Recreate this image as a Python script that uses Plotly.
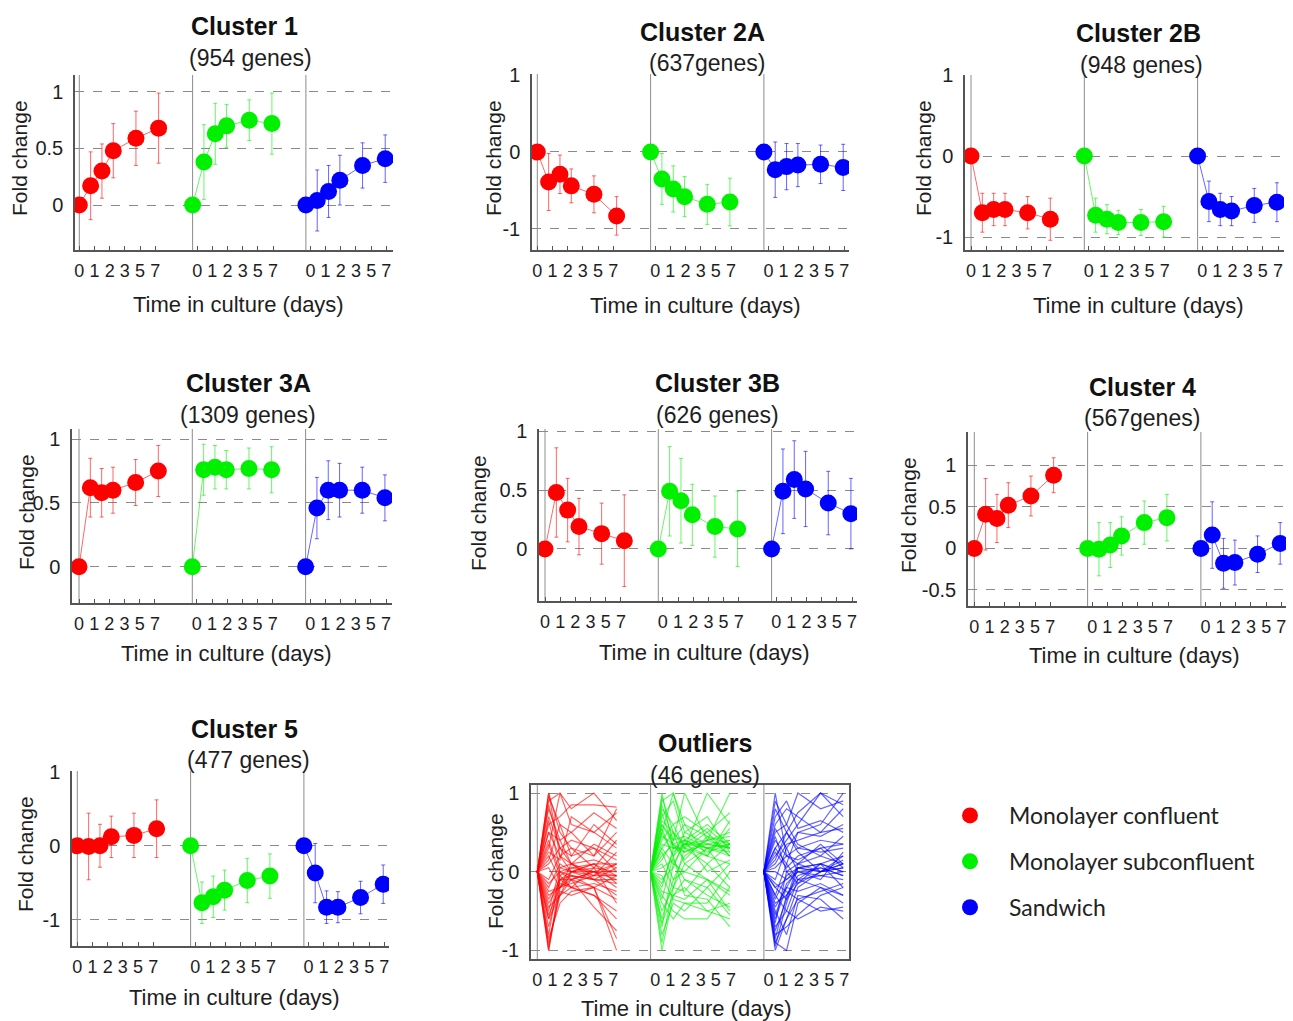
import plotly.graph_objects as go

W, H = 1293, 1021

# ---------------- data ----------------
DAYS = [0, 1, 2, 3, 5, 7]
TICK_LABELS = ["0", "1", "2", "3", "5", "7"]
CONDITIONS = ["Monolayer confluent", "Monolayer subconfluent", "Sandwich"]

# mean fold change per condition [confluent, subconfluent, sandwich]
C1_MEAN = [[0, 0.17, 0.30, 0.48, 0.59, 0.68],
           [0, 0.38, 0.63, 0.70, 0.75, 0.72],
           [0, 0.04, 0.12, 0.22, 0.35, 0.41]]
C1_ERR = [[0, 0.30, 0.24, 0.24, 0.24, 0.31],
          [0, 0.33, 0.27, 0.19, 0.18, 0.27],
          [0, 0.27, 0.23, 0.22, 0.20, 0.21]]

C2A_MEAN = [[0, -0.39, -0.29, -0.44, -0.55, -0.83],
            [0, -0.35, -0.48, -0.58, -0.68, -0.65],
            [0, -0.23, -0.19, -0.17, -0.16, -0.20]]
C2A_ERR = [[0, 0.37, 0.25, 0.22, 0.24, 0.25],
           [0, 0.33, 0.30, 0.26, 0.26, 0.31],
           [0, 0.36, 0.30, 0.28, 0.25, 0.30]]

C2B_MEAN = [[0, -0.70, -0.66, -0.66, -0.70, -0.78],
            [0, -0.73, -0.78, -0.82, -0.82, -0.81],
            [0, -0.56, -0.66, -0.68, -0.61, -0.57]]
C2B_ERR = [[0, 0.24, 0.20, 0.20, 0.20, 0.26],
           [0, 0.21, 0.18, 0.15, 0.16, 0.19],
           [0, 0.25, 0.20, 0.18, 0.21, 0.24]]

C3A_MEAN = [[0, 0.62, 0.58, 0.60, 0.66, 0.75],
            [0, 0.76, 0.78, 0.76, 0.77, 0.76],
            [0, 0.46, 0.60, 0.60, 0.60, 0.54]]
C3A_ERR = [[0, 0.23, 0.19, 0.18, 0.18, 0.20],
           [0, 0.20, 0.17, 0.15, 0.16, 0.18],
           [0, 0.24, 0.23, 0.21, 0.18, 0.18]]

C3B_MEAN = [[0, 0.48, 0.33, 0.19, 0.13, 0.07],
            [0, 0.49, 0.41, 0.29, 0.19, 0.17],
            [0, 0.49, 0.59, 0.51, 0.39, 0.30]]
C3B_ERR = [[0, 0.38, 0.27, 0.24, 0.26, 0.39],
           [0, 0.38, 0.36, 0.26, 0.26, 0.32],
           [0, 0.36, 0.33, 0.32, 0.27, 0.30]]

C4_MEAN = [[0, 0.41, 0.36, 0.52, 0.63, 0.88],
           [0, -0.01, 0.04, 0.15, 0.31, 0.37],
           [0, 0.16, -0.18, -0.17, -0.07, 0.06]]
C4_ERR = [[0, 0.43, 0.29, 0.27, 0.24, 0.21],
          [0, 0.32, 0.27, 0.23, 0.26, 0.28],
          [0, 0.40, 0.30, 0.27, 0.22, 0.25]]

C5_MEAN = [[0, -0.01, 0.00, 0.12, 0.14, 0.23],
           [0, -0.77, -0.69, -0.60, -0.47, -0.41],
           [0, -0.37, -0.83, -0.83, -0.70, -0.52]]
C5_ERR = [[0, 0.45, 0.29, 0.28, 0.30, 0.39],
          [0, 0.28, 0.28, 0.27, 0.30, 0.30],
          [0, 0.40, 0.22, 0.21, 0.22, 0.26]]

# outlier gene profiles (values at days 0,1,2,3,5,7)
OUT_RED = [
    [0, 1.0, 0.2, 0.1, 0.0, -0.1], [0, 1.0, 0.5, 0.3, 0.2, 0.8],
    [0, -1.0, -0.2, 0.0, 0.0, 0.1], [0, -1.0, -0.1, -0.05, -0.1, -0.3],
    [0, 0.9, 1.0, 0.8, 1.0, 0.65], [0, 0.3, 1.0, 0.6, 0.5, 0.3],
    [0, -0.6, -0.3, -0.1, 0.0, 0.0], [0, -0.8, 0.0, -0.1, -0.2, -1.0],
    [0, 0.5, 0.2, 0.0, -0.1, 0.05], [0, -0.3, -0.2, -0.15, -0.05, -0.05],
    [0, 0.6, 0.7, 0.85, 0.85, 0.82], [0, -0.5, 0.05, 0.1, 0.35, 0.2],
    [0, 0.2, -0.1, -0.1, 0.0, -0.2], [0, -0.9, -0.3, -0.2, -0.15, -0.25],
    [0, 0.8, 0.4, 0.5, 0.2, 0.5], [0, -0.2, 0.1, 0.0, 0.05, 0.0],
    [0, -0.4, -0.15, -0.2, -0.3, -0.6], [0, 0.4, 0.0, 0.05, 0.1, -0.05],
    [0, -0.7, -0.1, 0.0, -0.05, 0.1], [0, 0.7, 0.3, 0.2, 0.6, 0.35],
    [0, -0.25, -0.2, -0.1, -0.45, -0.75], [0, 0.1, 0.3, 0.4, 0.3, 0.15],
    [0, -0.95, -0.25, -0.3, -0.2, -0.35], [0, 0.95, 0.6, 0.2, 0.3, 0.0],
    [0, -0.15, 0.0, -0.05, -0.1, -0.1], [0, 0.25, 0.15, 0.7, 0.5, 0.75],
    [0, -0.6, -0.05, 0.05, 0.0, -0.05], [0, 0.05, -0.2, 0.1, -0.05, 0.25],
    [0, -0.35, -0.1, -0.2, 0.05, -0.4], [0, 0.5, 0.4, 0.1, 0.15, 0.05],
    [0, 0.85, 0.3, 0.1, -0.1, -0.15], [0, -0.85, -0.4, -0.25, -0.2, -0.05],
    [0, 0.15, 0.6, 0.5, 0.75, 0.55], [0, -0.45, -0.3, 0.0, 0.1, -0.15],
    [0, 0.35, -0.05, -0.2, -0.3, -0.5], [0, -0.1, 0.2, 0.3, 0.05, 0.4],
    [0, 0.65, 0.05, 0.0, 0.1, 0.1], [0, -0.55, -0.2, -0.05, -0.2, -0.85],
]
OUT_GREEN = [
    [0, 1.0, 0.3, 0.4, 0.3, 0.2], [0, -1.0, -0.3, -0.2, -0.5, -0.4],
    [0, 0.9, 1.0, 0.5, 0.35, 0.3], [0, 0.6, 0.4, 1.0, 0.4, 0.45],
    [0, 0.3, 0.5, 0.3, 1.0, 0.6], [0, 0.2, 0.35, 0.25, 0.4, 1.0],
    [0, -0.5, -0.2, 0.1, 0.3, 0.35], [0, 0.5, 0.2, -0.3, -0.35, -0.7],
    [0, -0.3, -0.5, -0.6, -0.6, -0.2], [0, 0.8, 0.6, 0.3, 0.2, 0.1],
    [0, -0.7, 0.1, 0.0, -0.1, -0.3], [0, 0.4, 0.6, 0.7, 0.5, 0.75],
    [0, -0.2, 0.3, 0.35, 0.3, 0.4], [0, 0.1, -0.2, -0.25, 0.1, -0.2],
    [0, -0.8, -0.4, -0.5, -0.2, -0.55], [0, 0.7, 0.9, 0.4, 0.6, 0.35],
    [0, -0.1, 0.05, 0.4, 0.0, 0.15], [0, 0.35, 0.3, 0.25, 0.35, 0.3],
    [0, -0.4, -0.6, -0.4, -0.4, 0.0], [0, 0.55, 0.2, 0.5, 0.7, 0.25],
    [0, 0.95, 0.5, 0.1, -0.1, -0.5], [0, -0.6, -0.1, 0.2, 0.4, 0.5],
    [0, 0.25, -0.1, 0.0, 0.3, -0.1], [0, 0.15, 0.4, 0.6, 0.2, 0.65],
    [0, -0.25, -0.3, -0.35, -0.1, -0.25], [0, 0.45, 0.35, 0.15, 0.45, 0.2],
    [0, -0.9, -0.2, 0.3, 0.1, 0.35], [0, 0.65, 0.5, 0.35, 0.35, 0.4],
    [0, 0.05, 0.15, -0.1, -0.2, 0.1], [0, -0.15, 0.25, 0.35, 0.55, 0.3],
    [0, 0.85, 0.4, 0.45, 0.3, 0.25], [0, -0.35, 0.2, 0.35, 0.4, 0.3],
    [0, 0.5, 1.0, 0.6, 0.45, 0.35], [0, -0.65, -0.3, -0.1, -0.3, -0.45],
    [0, 0.3, 0.1, 0.35, 0.2, 0.55], [0, 0.75, 0.3, 0.3, 0.5, 0.2],
    [0, -0.05, -0.35, -0.4, -0.5, -0.6], [0, 0.6, 0.35, 0.4, 0.25, 0.35],
]
OUT_BLUE = [
    [0, 1.0, 0.2, 0.1, 0.0, 0.05], [0, -1.0, -0.6, -0.2, 0.0, 0.1],
    [0, -0.9, -1.0, -0.4, -0.2, -0.3], [0, 0.5, 0.6, 1.0, 0.8, 0.9],
    [0, 0.2, 0.4, 0.6, 1.0, 0.7], [0, -0.3, 0.1, 0.5, 0.6, 1.0],
    [0, -0.7, -0.5, -0.1, -0.05, 0.0], [0, -0.5, -0.8, -0.3, -0.35, -0.6],
    [0, 0.8, 0.5, 0.3, 0.4, 0.35], [0, -0.2, -0.1, 0.0, 0.05, -0.05],
    [0, -0.6, -0.2, 0.05, 0.0, 0.1], [0, 0.3, 0.1, -0.1, -0.2, -0.4],
    [0, -0.8, -0.7, -0.55, -0.3, -0.2], [0, 0.1, 0.35, 0.4, 0.5, 0.55],
    [0, -0.4, -0.3, -0.1, 0.1, 0.2], [0, 0.6, 0.8, 0.7, 0.5, 0.8],
    [0, -0.95, -0.4, 0.05, 0.1, 0.0], [0, 0.0, -0.1, 0.05, 0.0, 0.15],
    [0, -0.3, -0.5, -0.6, -0.45, -0.5], [0, 0.4, 0.2, 0.3, 0.25, 0.3],
    [0, -0.1, 0.3, 0.0, -0.05, -0.1], [0, -0.65, 0.0, 0.1, 0.2, 0.45],
    [0, 0.7, 0.9, 0.55, 0.65, 0.5], [0, -0.45, -0.2, -0.25, -0.15, -0.3],
    [0, 0.25, 0.05, 0.2, 0.3, 0.05], [0, -0.85, -0.3, -0.05, 0.05, -0.05],
    [0, 0.15, 0.5, 0.25, 0.0, 0.2], [0, -0.2, -0.35, 0.1, 0.35, 0.1],
    [0, 0.45, 0.0, -0.15, 0.1, 0.0], [0, -0.55, -0.15, 0.0, -0.1, 0.25],
    [0, -0.75, -0.35, -0.15, 0.0, 0.05], [0, 0.55, 0.3, 0.5, 0.45, 0.6],
    [0, -0.9, -0.6, -0.35, -0.25, -0.15], [0, 0.05, 0.2, 0.15, 0.3, 0.35],
    [0, -0.35, -0.05, 0.05, 0.1, -0.2], [0, 0.9, 0.6, 0.35, 0.2, 0.1],
    [0, -0.15, -0.25, -0.35, -0.5, -0.45], [0, 0.3, 0.5, 0.75, 1.0, 0.85],
]

# ---------------- styling ----------------
RGB = [(255, 0, 0), (0, 240, 0), (0, 0, 255)]
FONT = "Liberation Sans, Arial, sans-serif"
TXT = "#1e1e1e"
GROUP_OFFSET = 10
PX_PER_DAY = 11.33


def rgba(g, a):
    r, gg, b = RGB[g]
    return f"rgba({r},{gg},{b},{a})"


PANELS = [
    dict(t="Cluster 1", s="(954 genes)", m=C1_MEAN, e=C1_ERR,
         yt=[0, 0.5, 1], ytt=["0", "0.5", "1"], box=(75, 393, 75, 250), x0=79.3,
         yr=(-0.398, 1.150), tp=(245, 26), sp=(250, 58), yl=(19, 158), xl=(239, 305)),
    dict(t="Cluster 2A", s="(637genes)", m=C2A_MEAN, e=C2A_ERR,
         yt=[-1, 0, 1], ytt=["-1", "0", "1"], box=(532, 849, 74, 250), x0=537.3,
         yr=(-1.273, 1.013), tp=(703, 32), sp=(707, 63), yl=(493, 158), xl=(695, 306)),
    dict(t="Cluster 2B", s="(948 genes)", m=C2B_MEAN, e=C2B_ERR,
         yt=[-1, 0, 1], ytt=["-1", "0", "1"], box=(965, 1284, 75, 250), x0=971,
         yr=(-1.16, 1.0), tp=(1138, 33), sp=(1141, 65), yl=(923, 158), xl=(1138, 306)),
    dict(t="Cluster 3A", s="(1309 genes)", m=C3A_MEAN, e=C3A_ERR,
         yt=[0, 0.5, 1], ytt=["0", "0.5", "1"], box=(72, 392, 429, 603), x0=79,
         yr=(-0.283, 1.079), tp=(248, 383), sp=(248, 415), yl=(26, 512), xl=(227, 653)),
    dict(t="Cluster 3B", s="(626 genes)", m=C3B_MEAN, e=C3B_ERR,
         yt=[0, 0.5, 1], ytt=["0", "0.5", "1"], box=(539, 857, 429, 601), x0=545,
         yr=(-0.443, 1.02), tp=(717, 383), sp=(717, 415), yl=(478, 513), xl=(704, 652)),
    dict(t="Cluster 4", s="(567genes)", m=C4_MEAN, e=C4_ERR,
         yt=[-0.5, 0, 0.5, 1], ytt=["-0.5", "0", "0.5", "1"], box=(968, 1286, 432, 606), x0=974.3,
         yr=(-0.693, 1.40), tp=(1142, 387), sp=(1142, 418), yl=(908, 515), xl=(1134, 655)),
    dict(t="Cluster 5", s="(477 genes)", m=C5_MEAN, e=C5_ERR,
         yt=[-1, 0, 1], ytt=["-1", "0", "1"], box=(72, 389, 771, 946), x0=77.3,
         yr=(-1.355, 1.01), tp=(244, 729), sp=(248, 760), yl=(25, 854), xl=(234, 997)),
    dict(t="Outliers", s="(46 genes)", m=None, e=None,
         yt=[-1, 0, 1], ytt=["-1", "0", "1"], box=(531, 849, 785, 959), x0=537.3,
         yr=(-1.109, 1.102), tp=(705, 743), sp=(705, 775), yl=(495, 871), xl=(686, 1008)),
]
OUTLIERS = [OUT_RED, OUT_GREEN, OUT_BLUE]

fig = go.Figure()
layout = {}
shapes = []
annotations = []

for i, p in enumerate(PANELS):
    sfx = "" if i == 0 else str(i + 1)
    xa, ya = "x" + sfx, "y" + sfx
    L, R, T, B = p["box"]
    xlo = (L - p["x0"]) / PX_PER_DAY
    xhi = (R - p["x0"]) / PX_PER_DAY
    outlier = p["m"] is None

    for g in range(3):
        xs = [g * GROUP_OFFSET + d for d in DAYS]
        if outlier:
            for prof in OUTLIERS[g]:
                fig.add_trace(go.Scatter(
                    x=xs, y=prof, mode="lines", xaxis=xa, yaxis=ya,
                    line=dict(color=rgba(g, 0.6), width=1.2), showlegend=False,
                    hoverinfo="skip"))
        else:
            fig.add_trace(go.Scatter(
                x=xs, y=p["m"][g], mode="lines+markers", xaxis=xa, yaxis=ya,
                line=dict(color=rgba(g, 0.6), width=1),
                marker=dict(size=17, color=rgba(g, 1)),
                error_y=dict(type="data", array=p["e"][g], color=rgba(g, 0.6),
                             thickness=1, width=2),
                showlegend=False))

    tickvals, ticktext = [], []
    for g in range(3):
        shift = 0 if g == 0 else 0.4
        for k, lab in enumerate(TICK_LABELS):
            tickvals.append(g * GROUP_OFFSET + shift + k * 1.34)
            ticktext.append(lab)

    layout["xaxis" + sfx] = dict(
        domain=[L / W, R / W], range=[xlo, xhi], anchor=ya, automargin=False,
        tickvals=tickvals, ticktext=ticktext,
        ticks="" if outlier else "inside", ticklen=4, tickcolor="#555",
        showline=True, linecolor="#555", linewidth=1.5, mirror=outlier,
        showgrid=False, zeroline=False, ticklabelstandoff=4,
        tickfont=dict(family=FONT, size=18, color=TXT), fixedrange=True)
    layout["yaxis" + sfx] = dict(
        domain=[1 - B / H, 1 - T / H], range=list(p["yr"]), anchor=xa, automargin=False,
        tickvals=p["yt"], ticktext=p["ytt"], ticks="",
        showline=True, linecolor="#555", linewidth=1.5, mirror=outlier,
        showgrid=True, gridcolor="#8a8a8a", griddash="dash", gridwidth=1,
        zeroline=False, ticklabelstandoff=6,
        tickfont=dict(family=FONT, size=20, color=TXT), fixedrange=True)

    for g in range(3):
        shapes.append(dict(type="line", xref=xa, yref=ya + " domain",
                           x0=g * GROUP_OFFSET, x1=g * GROUP_OFFSET, y0=0, y1=1,
                           line=dict(color="#8c8c8c", width=1), layer="below"))

    annotations.append(dict(text="<b>" + p["t"] + "</b>", x=p["tp"][0] / W, y=1 - p["tp"][1] / H,
                            xref="paper", yref="paper", showarrow=False,
                            xanchor="center", yanchor="middle",
                            font=dict(family=FONT, size=25, color="#111")))
    annotations.append(dict(text=p["s"], x=p["sp"][0] / W, y=1 - p["sp"][1] / H,
                            xref="paper", yref="paper", showarrow=False,
                            xanchor="center", yanchor="middle",
                            font=dict(family=FONT, size=23, color=TXT)))
    annotations.append(dict(text="Fold change", x=p["yl"][0] / W, y=1 - p["yl"][1] / H,
                            xref="paper", yref="paper", showarrow=False, textangle=-90,
                            xanchor="center", yanchor="middle",
                            font=dict(family=FONT, size=21, color=TXT)))
    annotations.append(dict(text="Time in culture (days)", x=p["xl"][0] / W, y=1 - p["xl"][1] / H,
                            xref="paper", yref="paper", showarrow=False,
                            xanchor="center", yanchor="middle",
                            font=dict(family=FONT, size=22, color=TXT)))

# legend entries
for g in range(3):
    fig.add_trace(go.Scatter(x=[None], y=[None], mode="markers", name=CONDITIONS[g],
                             legendgroup=CONDITIONS[g], marker=dict(size=20, color=rgba(g, 1)),
                             showlegend=True))

fig.update_layout(
    width=W, height=H, margin=dict(l=0, r=0, t=0, b=0, pad=0, autoexpand=False),
    paper_bgcolor="white", plot_bgcolor="white",
    shapes=shapes, annotations=annotations,
    legend=dict(x=931 / W, y=1 - 794 / H, xanchor="left", yanchor="top",
                font=dict(family="Lato, Liberation Sans, sans-serif", size=23, color="#222"),
                tracegroupgap=13, bgcolor="rgba(0,0,0,0)", itemsizing="trace",
                itemwidth=68),
    showlegend=True,
    **layout,
)

POST = "document.body.style.margin='0px';"
fig.write_html("out.html", config={"displayModeBar": False}, post_script=POST)
